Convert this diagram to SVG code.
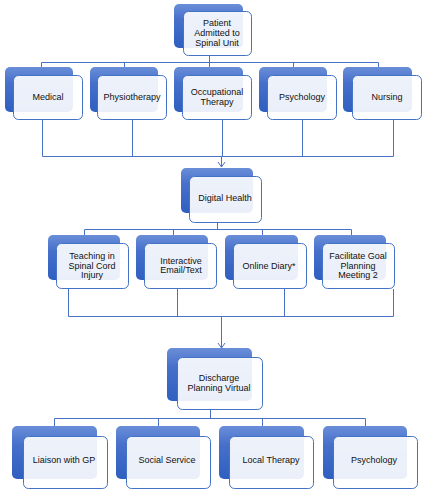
<svg xmlns="http://www.w3.org/2000/svg" width="428" height="498" viewBox="0 0 428 498">
<defs>
<linearGradient id="bg" x1="0" y1="0" x2="0" y2="1">
<stop offset="0" stop-color="#6a8ed8"/>
<stop offset="0.35" stop-color="#4770cb"/>
<stop offset="1" stop-color="#2f5fc0"/>
</linearGradient>
<style>
.back{fill:url(#bg);}
.front{fill:#ffffff;fill-opacity:0.9;stroke:#4472c4;stroke-width:1;}
.ln{fill:none;stroke:#4a72c2;stroke-width:1;}
text{font-family:"Liberation Sans",Arial,sans-serif;font-size:9px;fill:#111;text-anchor:middle;}
</style>
</defs>
<rect width="428" height="498" fill="#ffffff"/>
<g id="connectors">
<path class="ln" d="M209.5 55V62.5M41.5 62.5H378.5M41.5 62.5V67M124.5 62.5V67M209.5 62.5V67M293.5 62.5V67M378.5 62.5V67"/>
<path class="ln" d="M42.5 119V156.5M132.5 119V156.5M222.5 119V156.5M302.5 119V156.5M393.5 119V156.5M42.5 156.5H393.5M221.5 156.5V167"/>
<polyline class="ln" points="218,162 221.5,167 225,162"/>
<path class="ln" d="M217.5 223V229.5M84.5 229.5H351.5M84.5 229.5V235M173.5 229.5V235M262.5 229.5V235M351.5 229.5V235"/>
<path class="ln" d="M68.5 289V316.5M177.5 289V316.5M284.5 289V316.5M393.5 289V316.5M68.5 316.5H393.5M221.5 316.5V348"/>
<polyline class="ln" points="218,343 221.5,348 225,343"/>
<path class="ln" d="M210.5 410V418.5M54.5 418.5H365.5M54.5 418.5V426M158.5 418.5V426M262.5 418.5V426M365.5 418.5V426"/>
</g>
<g id="patient">
<rect class="back" x="174" y="4" width="69" height="44" rx="5"/>
<rect class="front" x="183.5" y="11.5" width="68" height="44" rx="5"/>
<text x="217" y="26">Patient</text>
<text x="217" y="36">Admitted to</text>
<text x="217" y="46">Spinal Unit</text>
</g>
<g id="medical">
<rect class="back" x="5" y="67" width="68" height="45" rx="5"/>
<rect class="front" x="13.5" y="75.5" width="69" height="44" rx="5"/>
<text x="48" y="100">Medical</text>
</g>
<g id="physiotherapy">
<rect class="back" x="90" y="67" width="68" height="45" rx="5"/>
<rect class="front" x="97.5" y="75.5" width="69" height="44" rx="5"/>
<text x="132" y="100">Physiotherapy</text>
</g>
<g id="occupational">
<rect class="back" x="174" y="67" width="69" height="45" rx="5"/>
<rect class="front" x="182.5" y="75.5" width="69" height="44" rx="5"/>
<text x="217" y="95">Occupational</text>
<text x="217" y="105">Therapy</text>
</g>
<g id="psychology1">
<rect class="back" x="259" y="67" width="68" height="45" rx="5"/>
<rect class="front" x="267.5" y="75.5" width="69" height="44" rx="5"/>
<text x="302" y="100">Psychology</text>
</g>
<g id="nursing">
<rect class="back" x="343" y="67" width="69" height="45" rx="5"/>
<rect class="front" x="352.5" y="75.5" width="69" height="44" rx="5"/>
<text x="387" y="100">Nursing</text>
</g>
<g id="digital">
<rect class="back" x="181" y="168" width="72" height="45" rx="5"/>
<rect class="front" x="189.5" y="176.5" width="72" height="46" rx="5"/>
<text x="225" y="201">Digital Health</text>
</g>
<g id="teaching">
<rect class="back" x="48" y="235" width="72" height="45" rx="5"/>
<rect class="front" x="56.5" y="243.5" width="72" height="45" rx="5"/>
<text x="92" y="259">Teaching in</text>
<text x="92" y="269">Spinal Cord</text>
<text x="92" y="278">Injury</text>
</g>
<g id="interactive">
<rect class="back" x="136" y="235" width="72" height="45" rx="5"/>
<rect class="front" x="144.5" y="243.5" width="72" height="45" rx="5"/>
<text x="181" y="264">Interactive</text>
<text x="181" y="273">Email/Text</text>
</g>
<g id="diary">
<rect class="back" x="225" y="235" width="73" height="45" rx="5"/>
<rect class="front" x="233.5" y="243.5" width="73" height="45" rx="5"/>
<text x="269" y="269">Online Diary*</text>
</g>
<g id="facilitate">
<rect class="back" x="314" y="235" width="72" height="45" rx="5"/>
<rect class="front" x="322.5" y="243.5" width="72" height="45" rx="5"/>
<text x="358" y="259">Facilitate Goal</text>
<text x="358" y="269">Planning</text>
<text x="358" y="278">Meeting 2</text>
</g>
<g id="discharge">
<rect class="back" x="167" y="348" width="85" height="53" rx="5"/>
<rect class="front" x="177.5" y="357.5" width="85" height="52" rx="5"/>
<text x="219" y="381">Discharge</text>
<text x="219" y="391">Planning Virtual</text>
</g>
<g id="liaison">
<rect class="back" x="12" y="426" width="85" height="53" rx="5"/>
<rect class="front" x="23.5" y="436.5" width="84" height="52" rx="5"/>
<text x="64" y="463">Liaison with GP</text>
</g>
<g id="social">
<rect class="back" x="116" y="426" width="84" height="53" rx="5"/>
<rect class="front" x="126.5" y="436.5" width="84" height="52" rx="5"/>
<text x="167" y="463">Social Service</text>
</g>
<g id="local">
<rect class="back" x="219" y="426" width="85" height="53" rx="5"/>
<rect class="front" x="229.5" y="436.5" width="84" height="52" rx="5"/>
<text x="271" y="463">Local Therapy</text>
</g>
<g id="psychology2">
<rect class="back" x="323" y="426" width="84" height="53" rx="5"/>
<rect class="front" x="333.5" y="436.5" width="84" height="52" rx="5"/>
<text x="374" y="463">Psychology</text>
</g>
</svg>
